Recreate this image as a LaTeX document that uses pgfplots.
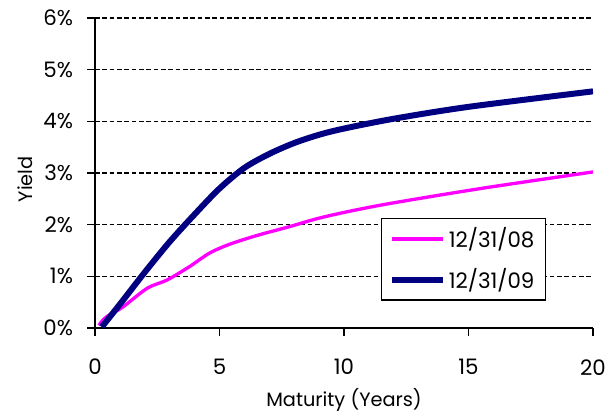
\documentclass[border=0pt]{standalone}
\usepackage{pgfplots}
\pgfplotsset{compat=1.18}
\usepackage{fontspec}
\setmainfont{Poppins}
\definecolor{curvemag}{RGB}{255,0,255}
\definecolor{curvenavy}{RGB}{0,0,128}

\begin{document}
\begin{tikzpicture}
% fixes the page to the reference's proportions around the axis box
\useasboundingbox (-71.3pt,-63.8pt) rectangle (388.5pt,246pt);
\begin{axis}[
    scale only axis,
    width=373.5pt, height=232.5pt,
    xmin=0, xmax=20, ymin=0, ymax=6,
    axis x line=bottom, axis y line=left,
    axis line style={-, line width=1.3pt},
    xtick={0,5,10,15,20},
    ytick={0,1,2,3,4,5,6},
    yticklabel={\pgfmathprintnumber{\tick}\%},
    tick style={black, line width=1.1pt},
    major tick length=6pt,
    tick align=outside,
    ymajorgrids,
    major grid style={black, line width=0.9pt, dash pattern=on 3.5pt off 2pt},
    /pgf/number format/assume math mode=true,
    ticklabel style={font=\fontsize{16}{18}\selectfont},
    xticklabel style={yshift=-14pt},
    yticklabel style={xshift=-7pt},
    xlabel={Maturity (Years)},
    ylabel={Yield},
    label style={font=\fontsize{14.5}{16}\selectfont},
    xlabel style={at={(axis description cs:0.5,-0.232)}, anchor=center},
    ylabel style={at={(axis description cs:-0.1406,0.48)}, anchor=center},
    legend style={at={(0.574,0.355)}, anchor=north west, draw=black,
        line width=0.9pt, fill=white, font=\fontsize{16}{18}\selectfont,
        inner xsep=6pt, inner ysep=5pt, row sep=10pt},
    legend cell align=left,
    legend image code/.code={\draw[#1] (0pt,0pt) -- (38pt,0pt);},
]
\addplot[curvemag, line width=2.5pt, smooth] coordinates {
    (0.15,0.05) (0.35,0.17) (0.6,0.26) (1.1,0.40) (2.1,0.77) (2.9,0.93)
    (3.8,1.19) (4.6,1.45) (5.4,1.62) (6.5,1.79) (7.8,1.96) (9.2,2.15)
    (11.5,2.38) (15.5,2.70) (20,3.02)
};
\addlegendentry{12/31/08}
\addplot[curvenavy, line width=4.5pt, smooth] coordinates {
    (0.27,0.02) (1,0.46) (2,1.08) (3,1.67) (4,2.2) (5,2.7) (6,3.1)
    (7,3.37) (8,3.58) (9,3.74) (10,3.86) (12,4.05) (15,4.28) (20,4.58)
};
\addlegendentry{12/31/09}
\end{axis}
\end{tikzpicture}
\end{document}
